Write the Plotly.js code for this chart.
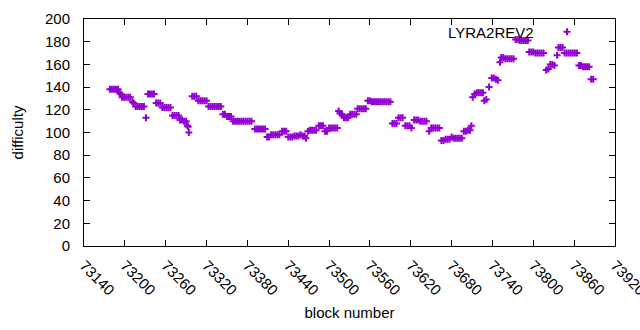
<!DOCTYPE html>
<html>
<head>
<meta charset="utf-8">
<script src="https://cdn.plot.ly/plotly-3.0.1.min.js"></script>
<style>html,body{margin:0;padding:0;background:#fff;}#chart{width:640px;height:330px;}</style>
</head>
<body>
<div id="chart"></div>
<script>
const seriesName = 'LYRA2REV2';
const blocks = [
73178,73181,73184,73187,73190,
73192,73194,
73196,73199,73202,73205,73208,
73211,73213,
73216,73219,73222,73225,73228,
73231,
73234,73237,73240,73243,
73246,73249,73252,
73255,73258,73261,73264,73267,
73270,73273,73276,73279,
73281,73284,73287,73290,
73292,73293,73294,
73299,73302,73305,
73308,73311,73314,73317,73320,
73323,73326,73329,73332,73335,73338,73341,
73344,73347,
73350,73353,73356,
73359,73362,73365,73368,73371,73374,73377,73380,73383,73386,
73391,73394,73397,73400,73403,73406,
73409,73412,
73415,73418,73421,73424,73427,
73431,73434,73437,
73440,73443,73446,73449,73452,73455,73458,73461,73464,
73466,
73469,73472,73475,73478,73481,
73485,73488,73491,
73494,73497,
73500,73503,73506,73509,73512,
73514,73516,73519,
73522,73525,73528,73531,73534,73537,73540,
73542,73545,73548,73551,73554,
73557,73560,
73563,73566,73569,73572,73575,73578,73581,73584,73587,73590,
73593,73596,73599,
73602,73605,73608,
73612,73615,73618,
73621,
73625,73628,73631,73634,73637,73640,73643,
73647,
73650,73653,73656,73659,73662,
73665,73668,73671,73674,73677,
73680,
73683,73686,73689,73692,73695,
73698,73701,73704,73707,
73709,
73711,73714,73717,73720,73723,73726,
73728,73731,
73735,
73739,73742,73745,73748,
73751,
73753,73756,73759,73762,73765,73768,73771,
73774,73777,73780,73783,73786,73789,73792,
73794,73797,73800,73803,73806,73809,73812,73815,
73819,73822,73825,73828,73831,73835,
73837,73840,73843,
73846,73849,73852,73855,73858,73861,73864,
73867,73870,73873,73876,73879,73882,
73885,73888
];
const difficulty = [
138,138,138,138,138,
135,134,
131,131,131,131,131,
127,126,
123,123,123,123,123,
113,
134,134,134,134,
126,126,126,
122,122,122,122,122,
115,115,115,115,
111,111,110,110,
106,105,100,
132,132,132,
128,128,128,128,128,
123,123,123,123,123,123,123,
116,116,
114,114,114,
110,110,110,110,110,110,110,110,110,110,
103,103,103,103,103,103,
96,96,
98,98,98,98,98,
101,101,101,
96,96,96,97,97,97,98,97,97,
95,
101,102,102,102,102,
106,106,106,
101,101,
104,104,104,104,104,
119,117,116,
113,113,113,116,116,116,116,
121,121,121,121,121,
128,128,
127,127,127,127,127,127,127,127,127,127,
108,108,108,
113,113,113,
106,106,106,
104,
111,111,111,110,110,110,110,
101,
104,104,104,104,104,
93,93,94,94,94,
96,
95,95,95,95,95,
101,101,102,102,
106,
131,134,135,135,135,135,
128,129,
140,
148,148,147,146,
162,
166,166,165,165,165,165,165,
182,182,181,181,181,181,181,
171,171,171,170,170,170,170,170,
155,156,160,160,159,168,
175,175,175,
170,170,170,170,170,170,170,
159,159,158,158,158,158,
147,147
];
const xTicks = [73140,73200,73260,73320,73380,73440,73500,73560,73620,73680,73740,73800,73860,73920];
const yTicks = [0,20,40,60,80,100,120,140,160,180,200];

const color = '#9400D3';
const trace = {
  x: blocks, y: difficulty, type: 'scatter', mode: 'markers', name: ' ',
  marker: {symbol: 'cross-thin-open', size: 5, color: color, line: {color: color, width: 2}},
  showlegend: true
};
const font = {family: 'Liberation Sans, Arial, sans-serif', size: 15, color: '#000'};
const L = 84, R = 615, T = 19, B = 246;
const layout = {
  width: 640, height: 330,
  margin: {l: L, r: 640 - R, t: T, b: 330 - B, pad: 0},
  paper_bgcolor: '#fff', plot_bgcolor: '#fff',
  font: font,
  xaxis: {
    range: [73140, 73920], tickmode: 'array', tickvals: xTicks, ticktext: xTicks.map(String),
    tickangle: 45, ticks: 'inside', ticklen: 6, tickcolor: '#000', mirror: 'ticks',
    showline: true, linecolor: '#000', linewidth: 1, showgrid: false, zeroline: false,
    tickfont: font, ticklabelstandoff: 4, ticklabeloverflow: 'allow',
    title: {text: 'block number', font: font, standoff: 10}
  },
  yaxis: {
    range: [0, 200], tickmode: 'array', tickvals: yTicks, ticktext: yTicks.map(String),
    ticks: 'inside', ticklen: 6, tickcolor: '#000', mirror: 'ticks',
    showline: true, linecolor: '#000', linewidth: 1, showgrid: false, zeroline: false,
    tickfont: font, ticklabelstandoff: 10,
    title: {text: 'difficulty', font: font, standoff: 17}
  },
  showlegend: true,
  legend: {x: (567 - L - 20) / (R - L), y: (B - 32) / (B - T), xanchor: 'left', yanchor: 'middle',
           bgcolor: 'rgba(0,0,0,0)', borderwidth: 0, font: font},
  annotations: [{xref: 'paper', yref: 'paper', x: (536 - L) / (R - L), y: (B - 32) / (B - T),
                 xanchor: 'right', yanchor: 'middle', text: seriesName, showarrow: false, font: font}]
};
Plotly.newPlot('chart', [trace], layout, {displayModeBar: false, staticPlot: true});
</script>
</body>
</html>
